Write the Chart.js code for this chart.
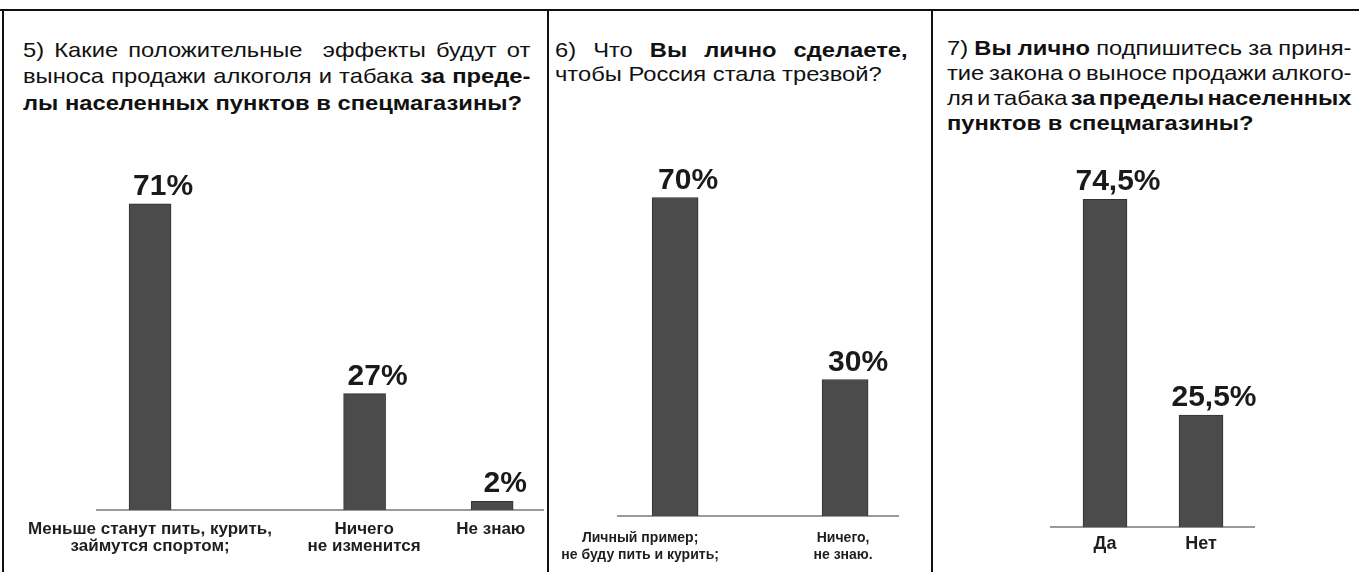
<!DOCTYPE html>
<html>
<head>
<meta charset="utf-8">
<script src="https://cdn.jsdelivr.net/npm/chart.js@4.4.1/dist/chart.umd.min.js"></script>
<style>
    body { margin: 0; background: #fff; }
    #page { position: relative; width: 1359px; height: 572px; overflow: hidden; background: #fff;
            font-family: "Liberation Sans", Arial, sans-serif; color: #111; }
    .rule { position: absolute; background: #111; }
    .title { position: absolute; font-size: 21px; transform: scaleX(1.13); transform-origin: 0 0; }
    .title div { white-space: nowrap; }
    .title .j { text-align: justify; text-align-last: justify; }
    .title .tight { word-spacing: -4px; }
    .box { position: absolute; }
</style>
</head>
<body>
<div id="page">
    <div class="rule" style="left:0;top:9px;width:1359px;height:2px"></div>
    <div class="rule" style="left:2px;top:9px;width:2px;height:563px"></div>
    <div class="rule" style="left:547px;top:9px;width:2px;height:563px"></div>
    <div class="rule" style="left:931px;top:9px;width:2px;height:563px"></div>

    <div class="title" style="left:23px;top:36.5px;width:449px;line-height:26.5px">
        <div class="j">5) Какие положительные&nbsp; эффекты будут от</div>
        <div class="j">выноса продажи алкоголя и табака <b>за преде-</b></div>
        <div><b>лы населенных пунктов в спецмагазины?</b></div>
    </div>
    <div class="title" style="left:555px;top:38px;width:312px;line-height:24px">
        <div class="j">6) Что <b>Вы лично сделаете,</b></div>
        <div>чтобы Россия стала трезвой?</div>
    </div>
    <div class="title" style="left:947px;top:35px;width:358px;line-height:25px">
        <div class="j tight">7) <b>Вы лично</b> подпишитесь за приня-</div>
        <div class="j tight">тие закона о выносе продажи алкого-</div>
        <div class="j tight">ля и табака <b>за пределы населенных</b></div>
        <div><b>пунктов в спецмагазины?</b></div>
    </div>

    <div class="box" style="left:5px;top:140px;width:542px;height:432px"><canvas id="chart1"></canvas></div>
    <div class="box" style="left:550px;top:140px;width:381px;height:452px"><canvas id="chart2"></canvas></div>
    <div class="box" style="left:934px;top:140px;width:425px;height:432px"><canvas id="chart3"></canvas></div>
</div>

<script>
// Question 5
const labels1 = [['Меньше станут пить, курить,', 'займутся спортом;'], ['Ничего', 'не изменится'], ['Не знаю']];
const values1 = [71, 27, 2];

// Question 6
const labels2 = [['Личный пример;', 'не буду пить и курить;'], ['Ничего,', 'не знаю.']];
const values2 = [70, 30];

// Question 7
const labels3 = ['Да', 'Нет'];
const values3 = [74.5, 25.5];

// layout: where each bar / its caption sits along the axis (0..100)
const barSlots1 = [11.9, 60.0, 88.6];
const tickSlots1 = [11.9, 59.9, 88.3];
const barSlots2 = [20.4, 81.1];
const tickSlots2 = [7.9, 80.4];
const barSlots3 = [26.6, 73.9];
const tickSlots3 = [26.6, 73.9];

const valueLabels = {
    id: 'valueLabels',
    afterDatasetsDraw(chart) {
        const ctx = chart.ctx;
        const meta = chart.getDatasetMeta(0);
        const data = chart.data.datasets[0].data;
        ctx.save();
        ctx.font = 'bold 30px "Liberation Sans", Arial, sans-serif';
        ctx.fillStyle = '#1a1a1a';
        ctx.textAlign = 'center';
        ctx.textBaseline = 'alphabetic';
        meta.data.forEach((bar, i) => {
            const txt = String(data[i].y).replace('.', ',') + '%';
            ctx.fillText(txt, bar.x + 13, bar.y - 9);
        });
        ctx.restore();
    }
};

function makeChart(id, labels, values, barSlots, tickSlots, opts) {
    const points = values.map((v, i) => ({ x: barSlots[i], y: v }));
    new Chart(document.getElementById(id), {
        type: 'bar',
        data: {
            datasets: [{
                data: points,
                backgroundColor: '#4b4b4b',
                borderColor: '#333',
                borderWidth: 1,
                barThickness: opts.bar
            }]
        },
        options: {
            responsive: true,
            maintainAspectRatio: false,
            animation: false,
            layout: { padding: opts.padding },
            plugins: { legend: { display: false }, tooltip: { enabled: false } },
            scales: {
                x: {
                    type: 'linear',
                    min: 0,
                    max: 100,
                    offset: false,
                    afterBuildTicks: scale => {
                        scale.ticks = tickSlots.map(v => ({ value: v }));
                    },
                    afterFit: scale => {
                        // captions may hang past the axis ends; don't shrink the plot for them
                        scale.paddingLeft = 0;
                        scale.paddingRight = 0;
                    },
                    grid: { display: false, drawTicks: false },
                    border: { display: true, color: '#9a9a9a', width: 2 },
                    ticks: {
                        autoSkip: false,
                        maxRotation: 0,
                        minRotation: 0,
                        padding: opts.tickPad,
                        color: '#1e1e1e',
                        font: { family: '"Liberation Sans", Arial, sans-serif', size: opts.tickSize, weight: 'bold', lineHeight: opts.tickLine },
                        callback: (value, index) => labels[index]
                    }
                },
                y: {
                    display: false,
                    min: 0,
                    max: 80
                }
            }
        },
        plugins: [valueLabels]
    });
}

makeChart('chart1', labels1, values1, barSlots1, tickSlots1,
    { bar: 42, tickPad: 11, tickSize: 17, tickLine: 1.0, padding: { left: 92, right: 4, top: 25, bottom: 6 } });
makeChart('chart2', labels2, values2, barSlots2, tickSlots2,
    { bar: 46, tickPad: 13, tickSize: 14, tickLine: 1.25, padding: { left: 68, right: 33, top: 12, bottom: 15 } });
makeChart('chart3', labels3, values3, barSlots3, tickSlots3,
    { bar: 44, tickPad: 6, tickSize: 18, tickLine: 1.2, padding: { left: 117, right: 105, top: 35, bottom: 11 } });
</script>
</body>
</html>
